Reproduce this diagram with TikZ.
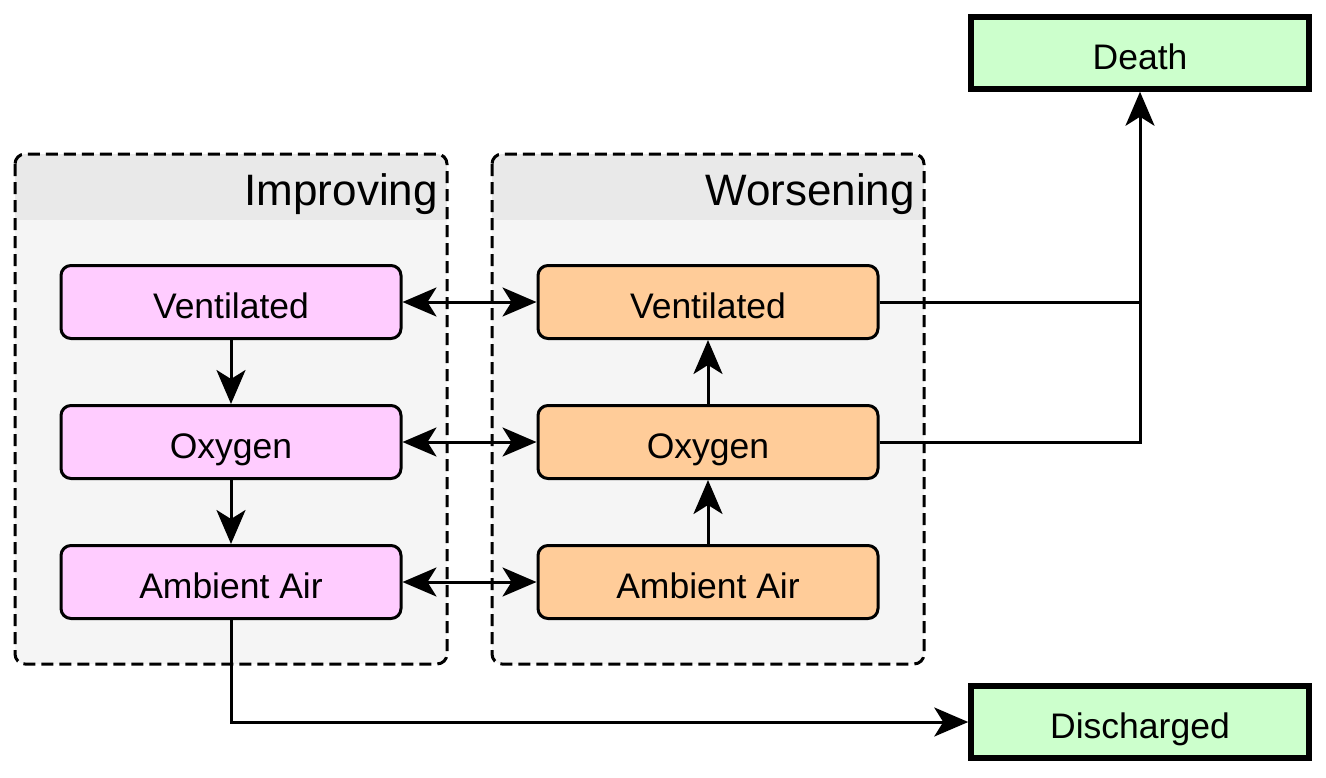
\documentclass[tikz,border=0pt]{standalone}
\usepackage{fontspec}
\setmainfont{Liberation Sans}
\usetikzlibrary{arrows.meta}
\definecolor{pinkfill}{HTML}{FFCCFF}
\definecolor{orangefill}{HTML}{FFCC99}
\definecolor{greenfill}{HTML}{CCFFCC}
\definecolor{groupfill}{HTML}{F5F5F5}
\definecolor{headfill}{HTML}{E9E9E9}
\begin{document}
\begin{tikzpicture}[x=1pt, y=-1pt,
		stage/.style={draw, line width=3pt, rounded corners=10pt, minimum width=340pt, minimum height=73pt, text height=32pt, text depth=0pt, font=\fontsize{35.5}{42}\selectfont},
		outcome/.style={draw, line width=5.5pt, fill=greenfill, minimum width=338pt, minimum height=72pt, text height=32pt, text depth=0pt, font=\fontsize{35.5}{42}\selectfont},
		flow/.style={line width=3pt, -{Stealth[length=34pt, width=29pt, inset=9pt]}},
		twoway/.style={line width=3pt, {Stealth[length=34pt, width=29pt, inset=9pt]}-{Stealth[length=34pt, width=29pt, inset=9pt]}},
		grouplabel/.style={anchor=base east, inner sep=0pt, font=\fontsize{44}{52}\selectfont}]
		\useasboundingbox (0,0) rectangle (1326,777);
		
		%groups
		\foreach \gx/\gname in {15/Improving, 492/Worsening}{
			\fill[groupfill, rounded corners=10pt] (\gx,154) rectangle (\gx+432,664);
			\begin{scope}
				\clip[rounded corners=10pt] (\gx,154) rectangle (\gx+432,664);
				\fill[headfill] (\gx,154) rectangle (\gx+432,220);
			\end{scope}
			\draw[line width=3pt, dash pattern=on 12pt off 6pt, rounded corners=10pt] (\gx,154) rectangle (\gx+432,664);
			\node[grouplabel] (\gname) at (\gx+423,205){\gname};
		}
		
		%improving
		\node[stage, fill=pinkfill] (iv) at (231,302){Ventilated};
		\node[stage, fill=pinkfill] (io) at (231,442){Oxygen};
		\node[stage, fill=pinkfill] (ia) at (231,582){Ambient Air};
		
		%worsening
		\node[stage, fill=orangefill] (wv) at (708,302){Ventilated};
		\node[stage, fill=orangefill] (wo) at (708,442){Oxygen};
		\node[stage, fill=orangefill] (wa) at (708,582){Ambient Air};
		
		%outcomes
		\node[outcome] (death) at (1140,53){Death};
		\node[outcome] (dis) at (1140,722){Discharged};
		
		\draw[flow] (iv) -- (io);
		\draw[flow] (io) -- (ia);
		\draw[flow] (wa) -- (wo);
		\draw[flow] (wo) -- (wv);
		\draw[twoway] (iv) -- (wv);
		\draw[twoway] (io) -- (wo);
		\draw[twoway] (ia) -- (wa);
		\draw[line width=3pt] (wv.east) -- (wv -| death);
		\draw[flow] (wo.east) -| (death);
		\draw[flow] (ia) |- (dis);
\end{tikzpicture}
\end{document}
